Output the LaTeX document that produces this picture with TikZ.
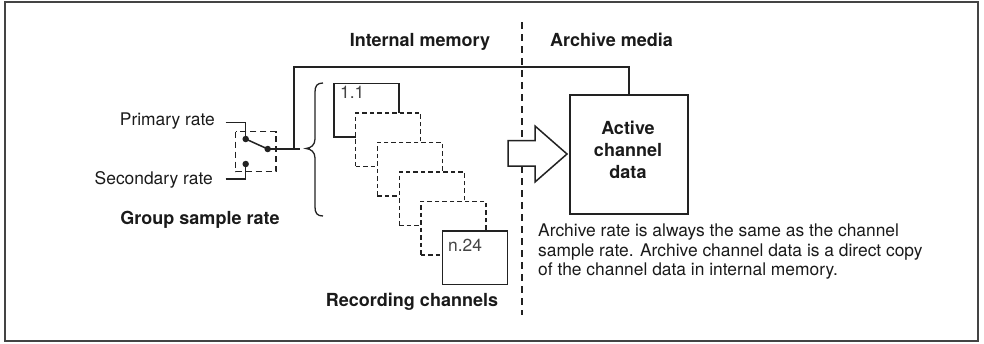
\documentclass[tikz,border=0pt]{standalone}
\usepackage{fontspec}
\setmainfont{TeX Gyre Heros}
\definecolor{lc}{HTML}{222222}
\definecolor{fc}{HTML}{444444}
\definecolor{tc}{HTML}{1A1A1A}
\definecolor{gc}{HTML}{444444}
\begin{document}
\begin{tikzpicture}[x=1pt,y=-1pt,
  ln/.style={draw=lc, line width=1.5pt},
  chan/.style={draw=lc, fill=white, line width=1.3pt, minimum width=65pt, minimum height=53.5pt, anchor=north west, inner sep=0pt},
  dchan/.style={chan, dash pattern=on 4.5pt off 3pt},
  lbl/.style={font=\fontsize{18}{21.7}\selectfont\bfseries, inner sep=0pt, text=tc},
  txt/.style={font=\fontsize{17.4}{19.2}\selectfont, inner sep=0pt, text=tc},
  dot/.style={circle, fill=lc, inner sep=0pt, minimum size=6.5pt}]
\useasboundingbox (0,0) rectangle (984,343);
\draw[draw=fc, line width=1.8pt] (5,2) rectangle (978,341);
% divider
\draw[lc, line width=2pt, dash pattern=on 7pt off 5pt] (521.5,22) -- (521.5,315);
% headers
\node[lbl, anchor=base] (hint) at (420,46) {Internal memory};
\node[lbl, anchor=base] (harch) at (611.5,46) {Archive media};
% recording channels
\node[chan]  (c0) at (333.3,82.7) {};
\node[dchan] (c1) at (355.05,112.2) {};
\node[dchan] (c2) at (376.8,141.7) {};
\node[dchan] (c3) at (398.55,171.2) {};
\node[dchan] (c4) at (420.3,200.7) {};
\node[chan]  (c5) at (442.05,230.2) {};
\node[txt, anchor=base west, text=gc] (l11) at (340,98) {1.1};
\node[txt, anchor=base west, text=gc] (l24) at (448,251) {n.24};
\node[lbl, anchor=base] (rec) at (412,306) {Recording channels};
% brace
\draw[ln, line width=1.3pt] (323,83) .. controls (317,83) and (315,86) .. (315,92) -- (315,139)
  .. controls (315,145) and (311,148) .. (306,148.5) .. controls (311,149) and (315,152) .. (315,158)
  -- (315,207) .. controls (315,213) and (317,216) .. (323,216);
% switch
\draw[lc, line width=1.2pt, dash pattern=on 6pt off 4pt] (235.7,131.7) rectangle (276,171.7);
\node[dot] (p1) at (245.7,139) {};
\node[dot] (p2) at (245.7,164) {};
\node[dot] (po) at (267.7,149) {};
\coordinate (pin) at (225.7,122.7);
\coordinate (sin) at (225.7,179);
\draw[ln] (pin) -| (p1.center);
\draw[ln] (sin) -| (p2.center);
\draw[ln] (p1.center) -- (po.center);
\coordinate (jn) at (294,149);
\coordinate (brend) at (300,149);
\coordinate (topl) at (294,67);
\draw[ln] (po.center) -- (brend);
\node[txt, anchor=base east] (prim) at (215,125) {Primary rate};
\node[txt, anchor=base east] (sec) at (213,184) {Secondary rate};
\node[lbl, anchor=base] (gsr) at (200,224.3) {Group sample rate};
% active channel data
\node[draw=lc, line width=1.5pt, minimum width=118pt, minimum height=119pt, anchor=north west, inner sep=0pt] (act) at (569,94) {};
\node[lbl, align=center] (actt) at (628,150) {Active\\channel\\data};
\draw[ln] (jn) -- (topl) -| (act.north);
% big arrow
\draw[ln, fill=white, line join=miter] (508,140.7) -- (535,140.7) -- (535,126) -- (567,154) -- (535,182) -- (535,166) -- (508,166) -- cycle;
% description
\node[txt, anchor=north west, align=left] (desc) at (538,224) {Archive rate is always the same as the channel\\sample rate. Archive channel data is a direct copy\\of the channel data in internal memory.};
\end{tikzpicture}
\end{document}
